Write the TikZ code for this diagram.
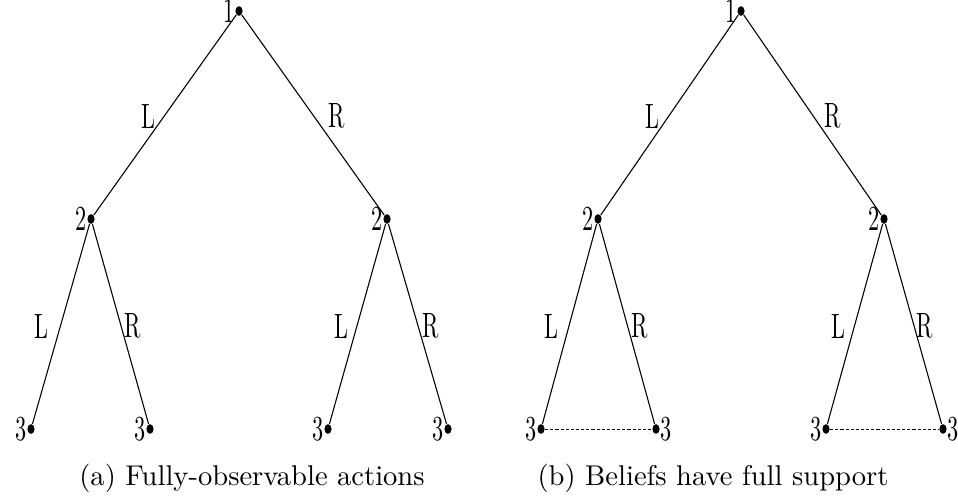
\documentclass[tikz,border=0pt]{standalone}
\usepackage{amsmath,amssymb}
\usepackage{tikz}
\usetikzlibrary{shapes.geometric,positioning}
\newcommand{\lab}[1]{\scalebox{0.78}[1.23]{#1}}

\begin{document}
\begin{tikzpicture}[x=0.35pt,y=-0.35pt,line width=0.38pt,
    dot/.style={ellipse,fill=black,inner sep=0pt,minimum width=2.5pt,
                minimum height=3.4pt,label distance=2pt},
    lbl/.style={inner sep=0pt,font=\fontsize{10}{12}\selectfont},
    info/.style={line width=0.35pt,dash pattern=on 1.1pt off 0.7pt},
    captext/.style={inner sep=0pt,font=\fontsize{10}{12}\selectfont}]
  \useasboundingbox (0,0) rectangle (958,501);

  % (a) fully-observable actions
  \node[dot,label={[lbl]left:\lab{1}}] (a1) at (239,11) {};
  \node[dot,label={[lbl]left:\lab{2}}] (a2l) at (91,219) {};
  \node[dot,label={[lbl]left:\lab{2}}] (a2r) at (387,219) {};
  \node[dot,label={[lbl]left:\lab{3}}] (a3ll) at (31,429) {};
  \node[dot,label={[lbl]left:\lab{3}}] (a3lr) at (150,429) {};
  \node[dot,label={[lbl]left:\lab{3}}] (a3rl) at (328,429) {};
  \node[dot,label={[lbl]left:\lab{3}}] (a3rr) at (448,429) {};
  \draw (a1) -- (a2l);
  \draw (a1) -- (a2r);
  \draw (a2l) -- (a3ll);
  \draw (a2l) -- (a3lr);
  \draw (a2r) -- (a3rl);
  \draw (a2r) -- (a3rr);
  \node[lbl] (aL1) at (148,116) {\lab{L}};
  \node[lbl] (aR1) at (337,116) {\lab{R}};
  \node[lbl] (aLl) at (41,326) {\lab{L}};
  \node[lbl] (aRl) at (133,326) {\lab{R}};
  \node[lbl] (aLr) at (341,326) {\lab{L}};
  \node[lbl] (aRr) at (431,326) {\lab{R}};
  \node[captext] (capa) at (252,478) {(a) Fully-observable actions};

  % (b) beliefs with full support
  \node[dot,label={[lbl]left:\lab{1}}] (b1) at (741,11) {};
  \node[dot,label={[lbl]left:\lab{2}}] (b2l) at (598,219) {};
  \node[dot,label={[lbl]left:\lab{2}}] (b2r) at (884,219) {};
  \node[dot,label={[lbl]left:\lab{3}}] (b3ll) at (541,429) {};
  \node[dot,label distance=0.6pt,label={[lbl]right:\lab{3}}] (b3lr) at (656,429) {};
  \node[dot,label={[lbl]left:\lab{3}}] (b3rl) at (826,429) {};
  \node[dot,label distance=0.6pt,label={[lbl]right:\lab{3}}] (b3rr) at (943,429) {};
  \draw (b1) -- (b2l);
  \draw (b1) -- (b2r);
  \draw (b2l) -- (b3ll);
  \draw (b2l) -- (b3lr);
  \draw (b2r) -- (b3rl);
  \draw (b2r) -- (b3rr);
  \draw[info] (b3ll) -- (b3lr);
  \draw[info] (b3rl) -- (b3rr);
  \node[lbl] (bL1) at (652,116) {\lab{L}};
  \node[lbl] (bR1) at (833,116) {\lab{R}};
  \node[lbl] (bLl) at (551,326) {\lab{L}};
  \node[lbl] (bRl) at (640,326) {\lab{R}};
  \node[lbl] (bLr) at (838,326) {\lab{L}};
  \node[lbl] (bRr) at (925,326) {\lab{R}};
  \node[captext] (capb) at (713,478) {(b) Beliefs have full support};
\end{tikzpicture}
\end{document}
